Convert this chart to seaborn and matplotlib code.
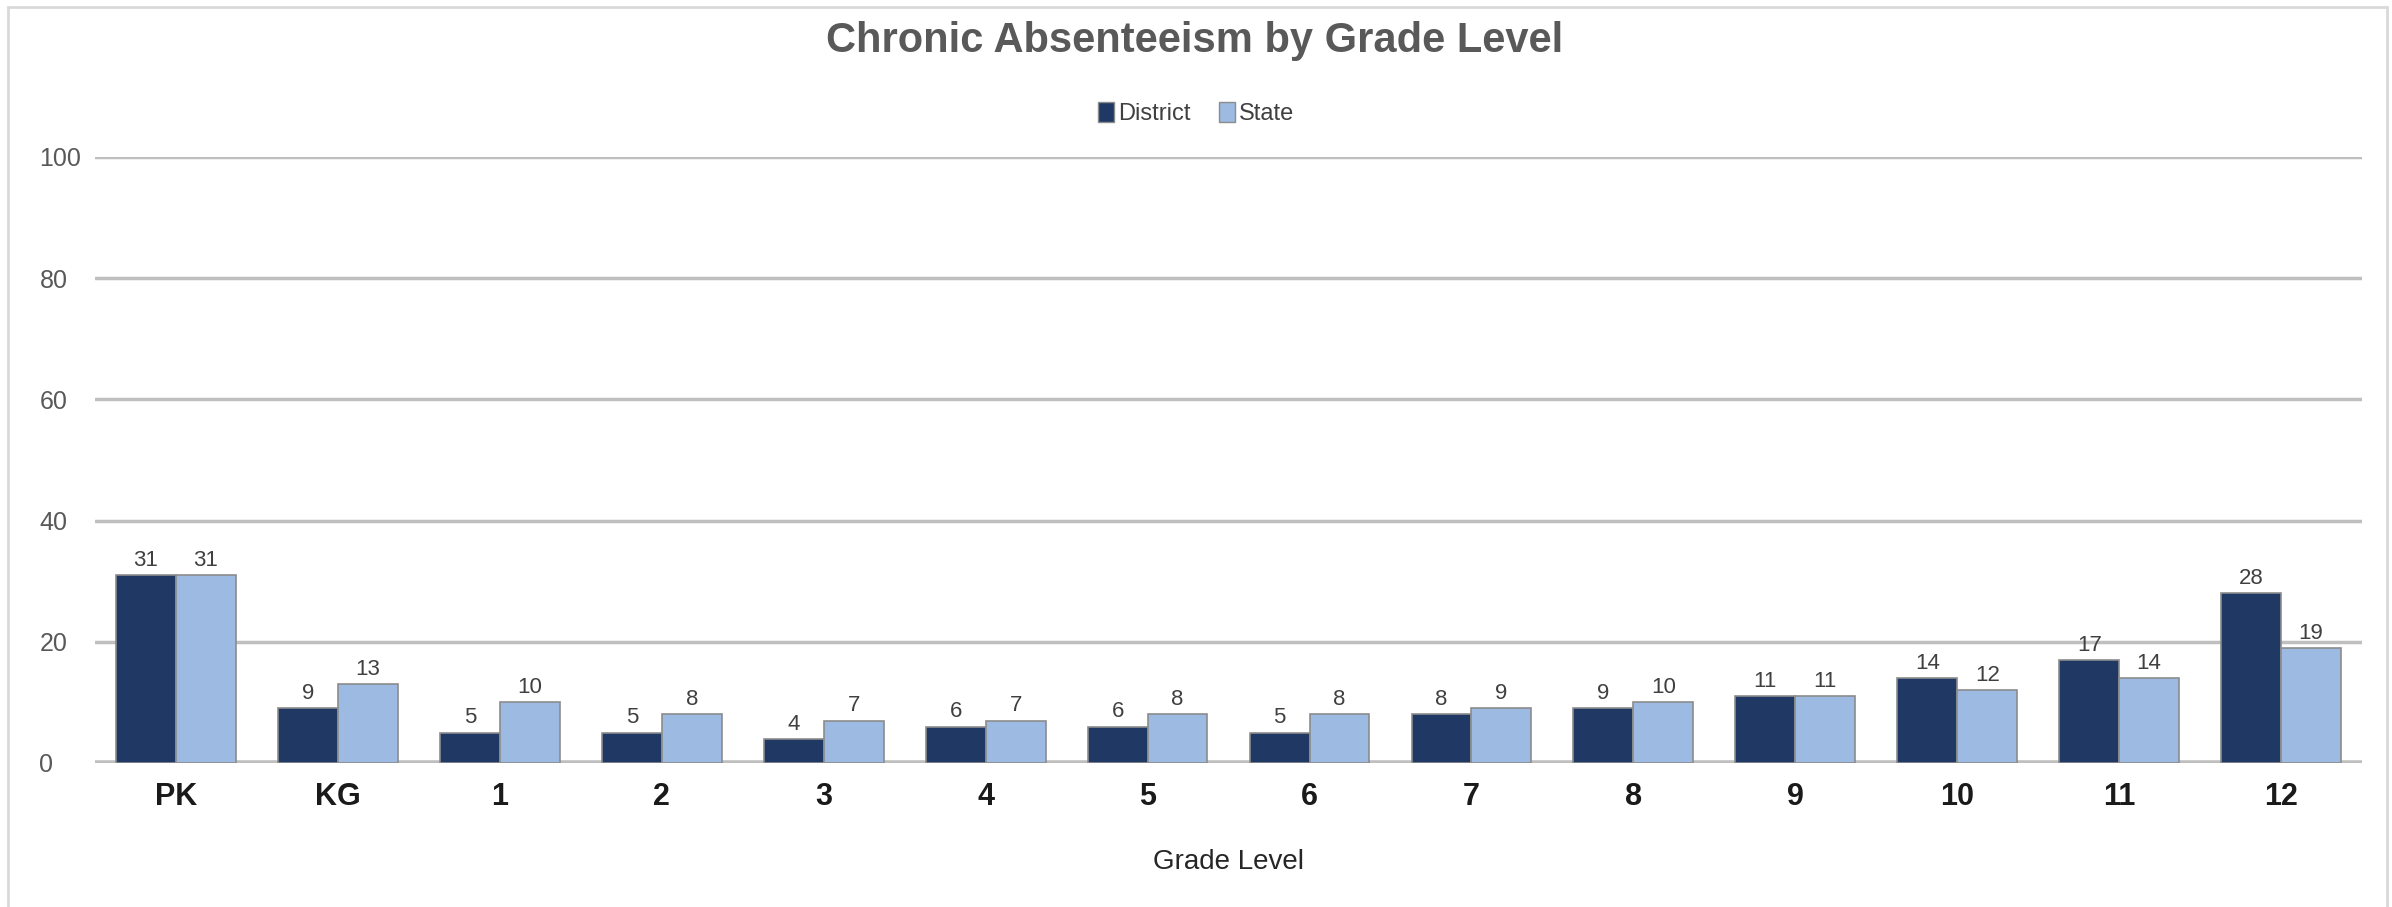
import matplotlib
matplotlib.use("Agg")
import matplotlib.pyplot as plt
import seaborn as sns
import pandas as pd
from matplotlib.patches import Rectangle, Patch

grades = ["PK", "KG", "1", "2", "3", "4", "5", "6", "7", "8", "9", "10", "11", "12"]
district = [31, 9, 5, 5, 4, 6, 6, 5, 8, 9, 11, 14, 17, 28]
state = [31, 13, 10, 8, 7, 7, 8, 8, 9, 10, 11, 12, 14, 19]
series_names = ["District", "State"]
colors = ["#1F3864", "#9DBAE3"]
yticks = [0, 20, 40, 60, 80, 100]

sns.set_theme(style="white")
plt.rcParams["font.family"] = ["Liberation Sans", "DejaVu Sans"]

df = pd.DataFrame({
    "Grade": grades * 2,
    "Value": district + state,
    "Series": [series_names[0]] * len(grades) + [series_names[1]] * len(grades),
})

fig = plt.figure(figsize=(23.92, 9.07), dpi=100)
ax = fig.add_axes([0.0397, 0.1588, 0.9478, 0.6682])

sns.barplot(data=df, x="Grade", y="Value", hue="Series", order=grades,
            hue_order=series_names, palette=colors, saturation=1, width=0.74,
            edgecolor="#8C8C8C", linewidth=1.2, ax=ax, legend=False, zorder=3)

ax.set_ylim(0, 100)
ax.set_xlim(-0.5, len(grades) - 0.5)
ax.set_yticks(yticks)
ax.set_yticklabels([str(t) for t in yticks], color="#595959", fontsize=18)
for lab in ax.get_yticklabels():
    lab.set_horizontalalignment("left")
ax.tick_params(axis="y", length=0, pad=40)
ax.tick_params(axis="x", length=0, pad=14)
for lab in ax.get_xticklabels():
    lab.set_fontsize(22)
    lab.set_fontweight("bold")
    lab.set_color("#1A1A1A")
for y in yticks:
    ax.axhline(y, color="#BFBFBF", lw=2.5 if y else 4, zorder=1)
for s in ax.spines.values():
    s.set_visible(False)

for cont in ax.containers:
    ax.bar_label(cont, labels=[f"{int(v)}" for v in cont.datavalues],
                 padding=3, fontsize=16, color="#404040")

ax.set_ylabel("")
ax.set_xlabel("Grade Level", fontsize=20, color="#262626", labelpad=26)

fig.text(0.4995, 0.955, "Chronic Absenteeism by Grade Level", ha="center", va="center",
         fontsize=30, fontweight="bold", color="#595959")

handles = [Patch(facecolor=c, edgecolor="#8C8C8C") for c in colors]
fig.legend(handles, series_names, loc="center", bbox_to_anchor=(0.5, 0.875), ncol=2,
           frameon=False, fontsize=17, handlelength=0.7, handleheight=0.9,
           handletextpad=0.15, columnspacing=1.2, labelcolor="#404040")

fig.patches.append(Rectangle((0.0035, -0.01), 0.9945, 1.002, transform=fig.transFigure,
                             fill=False, edgecolor="#D9D9D9", lw=2, zorder=0))

fig.savefig("out.png", dpi=100, facecolor="white")
